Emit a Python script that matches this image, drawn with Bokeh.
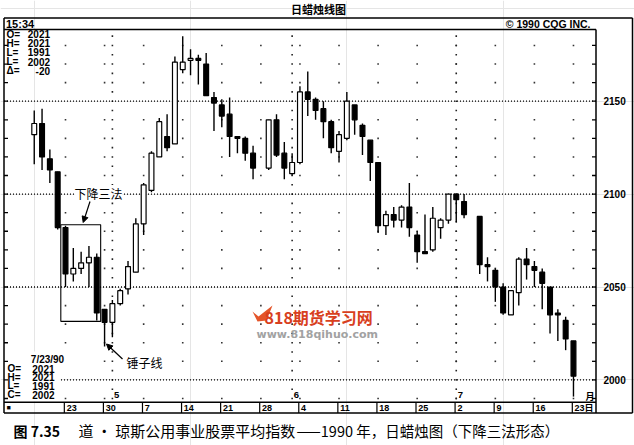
import numpy as np
from bokeh.plotting import figure
from bokeh.models import Range1d, Label, Arrow, NormalHead, ColumnDataSource
from bokeh.core.properties import value
from bokeh.embed import file_html
from bokeh.resources import INLINE

# ---------------- data ----------------
dates = ["1990-04-17", "1990-04-18", "1990-04-19", "1990-04-20", "1990-04-23",
         "1990-04-24", "1990-04-25", "1990-04-26", "1990-04-27", "1990-04-30",
         "1990-05-01", "1990-05-02", "1990-05-03", "1990-05-04", "1990-05-07",
         "1990-05-08", "1990-05-09", "1990-05-10", "1990-05-11", "1990-05-14",
         "1990-05-15", "1990-05-16", "1990-05-17", "1990-05-18", "1990-05-21",
         "1990-05-22", "1990-05-23", "1990-05-24", "1990-05-25", "1990-05-29",
         "1990-05-30", "1990-05-31", "1990-06-01", "1990-06-04", "1990-06-05",
         "1990-06-06", "1990-06-07", "1990-06-08", "1990-06-11", "1990-06-12",
         "1990-06-13", "1990-06-14", "1990-06-15", "1990-06-18", "1990-06-19",
         "1990-06-20", "1990-06-21", "1990-06-22", "1990-06-25", "1990-06-26",
         "1990-06-27", "1990-06-28", "1990-06-29", "1990-07-02", "1990-07-03",
         "1990-07-05", "1990-07-06", "1990-07-09", "1990-07-10", "1990-07-11",
         "1990-07-12", "1990-07-13", "1990-07-16", "1990-07-17", "1990-07-18",
         "1990-07-19", "1990-07-20", "1990-07-23"]
opens = [2132, 2138, 2119, 2112, 2082, 2057, 2060, 2063, 2066, 2038,
         2031, 2041, 2049, 2058, 2084, 2102, 2120, 2131, 2127, 2167,
         2172, 2173, 2170, 2152, 2148, 2143, 2131, 2130, 2122, 2114,
         2140, 2122, 2111, 2117, 2155, 2151, 2146, 2139, 2123, 2130,
         2148, 2137, 2129, 2117, 2083, 2089, 2086, 2093, 2078, 2069,
         2070, 2082, 2086, 2100, 2096, 2088, 2062, 2059, 2050, 2035,
         2047, 2065, 2061, 2058, 2050, 2036, 2032, 2021]
highs = [2145, 2146, 2124, 2112, 2083, 2071, 2069, 2072, 2068, 2038,
         2043, 2049, 2064, 2087, 2106, 2123, 2141, 2143, 2174, 2185,
         2178, 2175, 2176, 2155, 2151, 2152, 2131, 2131, 2126, 2140,
         2143, 2128, 2122, 2158, 2166, 2152, 2150, 2140, 2134, 2155,
         2148, 2138, 2129, 2117, 2091, 2093, 2094, 2106, 2080, 2089,
         2093, 2087, 2100, 2100, 2100, 2088, 2066, 2060, 2052, 2048,
         2066, 2071, 2064, 2060, 2050, 2038, 2034, 2021]
lows = [2116, 2113, 2106, 2081, 2050, 2053, 2057, 2050, 2032, 2018,
        2023, 2040, 2046, 2058, 2078, 2101, 2120, 2123, 2127, 2165,
        2164, 2159, 2153, 2134, 2136, 2120, 2122, 2118, 2108, 2113,
        2120, 2108, 2110, 2116, 2142, 2140, 2130, 2122, 2117, 2129,
        2132, 2121, 2107, 2079, 2078, 2082, 2082, 2077, 2063, 2068,
        2069, 2076, 2084, 2085, 2087, 2057, 2053, 2042, 2035, 2035,
        2040, 2054, 2050, 2038, 2025, 2021, 2016, 1991]
closes = [2138, 2120, 2113, 2082, 2057, 2060, 2063, 2066, 2036, 2031,
          2041, 2048, 2061, 2084, 2105, 2122, 2139, 2125, 2171, 2171,
          2173, 2172, 2153, 2149, 2142, 2131, 2130, 2122, 2114, 2140,
          2121, 2114, 2117, 2155, 2151, 2145, 2139, 2125, 2132, 2150,
          2140, 2131, 2117, 2083, 2089, 2086, 2093, 2082, 2069, 2068,
          2087, 2086, 2100, 2097, 2089, 2062, 2061, 2050, 2036, 2048,
          2065, 2062, 2059, 2052, 2035, 2035, 2022, 2002]

price_ticks = [2000, 2050, 2100, 2150]
price_tick_labels = ["2000", "2050", "2100", "2150"]
price_minor = [1990, 2000, 2010, 2020, 2030, 2040, 2050, 2060, 2070, 2080, 2090,
               2100, 2110, 2120, 2130, 2140, 2150, 2160, 2170, 2180]
week_dates = ["1990-04-23", "1990-04-30", "1990-05-07", "1990-05-14", "1990-05-21",
              "1990-05-28", "1990-06-04", "1990-06-11", "1990-06-18", "1990-06-25",
              "1990-07-02", "1990-07-09", "1990-07-16", "1990-07-23"]
week_labels = ["23", "30", "7", "14", "21", "28", "4", "11", "18", "25", "2", "9", "16", "23"]
month_dates = ["1990-05-01", "1990-06-01", "1990-07-02"]
month_labels = ["5", "6", "7"]

START = dates[0]
def bidx(ds):
    return np.busday_count(START, np.array(ds, dtype="datetime64[D]")).astype(float)

idx = bidx(dates)
week_idx = bidx(week_dates)
month_idx = bidx(month_dates)

# ---------------- geometry (page pixels; the frame fills the whole canvas) ----------------
W, H = 634, 445
OB_L, OB_T, OB_R, OB_B = 3.5, 17.5, 632, 412.5   # outer box
PL_R, PL_T, PL_B = 595.5, 29, 401.7              # plot area right / top / bottom
PX_DAY = 7.815
REF_X, REF_I = 65.0, 4.0
PX_PT = 1.858
REF_Y, REF_P = 100.7, 2150.0

x_start = REF_I - REF_X / PX_DAY
x_end = REF_I + (W - REF_X) / PX_DAY
y_end = REF_P + REF_Y / PX_PT
y_start = REF_P - (H - REF_Y) / PX_PT

def X(px):
    return x_start + px / PX_DAY

def Y(py):
    return y_end - py / PX_PT

CJK = "Noto Sans CJK SC"
LAT = "Liberation Sans"

p = figure(width=W, height=H, x_range=Range1d(x_start, x_end),
           y_range=Range1d(y_start, y_end), x_axis_location=None,
           y_axis_location=None, toolbar_location=None, output_backend="svg",
           min_border_left=0, min_border_right=0, min_border_top=0, min_border_bottom=0,
           background_fill_color="white", border_fill_color="white")
p.outline_line_color = None

# weekly dot grid and month dotted verticals
wx, wy = [], []
for w in week_idx:
    for v in price_minor:
        if v % 50:
            wx.append(w); wy.append(v)
p.scatter(wx, wy, marker="square", size=1.6, color="#333333", line_width=0)
mx, my = [], []
for m in month_idx:
    v = 1990
    while v < Y(PL_T):
        mx.append(m); my.append(v); v += 5
p.scatter(mx, my, marker="square", size=1.6, color="#222222", line_width=0)

# dotted price lines across plot area
n = len(price_ticks)
p.segment(x0=[X(OB_L)] * n, y0=price_ticks, x1=[X(PL_R)] * n, y1=price_ticks,
          line_color="black", line_width=1.3, line_dash="1 2")

# white patches behind lower-left text block
p.quad(left=[X(OB_L), X(OB_L)], right=[X(69), X(60)], top=[Y(351), Y(372)],
       bottom=[Y(372), Y(401)], fill_color="white", line_color=None)

# left and right edge ticks
m_ = len(price_minor)
p.segment(x0=[X(OB_L)] * m_, y0=price_minor, x1=[X(OB_L + 4)] * m_, y1=price_minor,
          line_color="black", line_width=1.3)
p.segment(x0=[X(PL_R - 4)] * m_, y0=price_minor, x1=[X(PL_R)] * m_, y1=price_minor,
          line_color="black", line_width=1.3)

# outer box, header line, plot right edge, date row top
bx0 = [OB_L, OB_L, OB_R, OB_L, OB_L, PL_R, OB_L]
by0 = [OB_T, OB_T, OB_T, OB_B, PL_T, PL_T, PL_B]
bx1 = [OB_R, OB_L, OB_R, OB_R, PL_R, PL_R, PL_R]
by1 = [OB_T, OB_B, OB_B, OB_B, PL_T, OB_B, PL_B]
p.segment(x0=[X(v) for v in bx0], y0=[Y(v) for v in by0],
          x1=[X(v) for v in bx1], y1=[Y(v) for v in by1],
          line_color="black", line_width=1.5)
div_x = week_idx - 0.15
p.segment(x0=div_x, y0=[Y(PL_B)] * len(div_x), x1=div_x, y1=[Y(OB_B)] * len(div_x),
          line_color="black", line_width=1.2)

# candlesticks
o = np.array(opens); c = np.array(closes)
src = ColumnDataSource(dict(x=idx, hi=highs, lo=lows,
                            top=np.maximum(o, c), bot=np.minimum(o, c),
                            fill=["white" if cc > oo else "black" for oo, cc in zip(o, c)]))
p.segment(x0="x", y0="lo", x1="x", y1="hi", source=src, line_color="black", line_width=1.4)
p.vbar(x="x", top="top", bottom="bot", width=0.62, source=src,
       fill_color="fill", line_color="black", line_width=1.2)

# pattern box (falling three methods)
p.quad(left=[idx[4] - 0.6], right=[idx[8] + 0.5], top=[highs[4] + 0.5], bottom=[lows[8] - 0.5],
       fill_alpha=0, line_color="black", line_width=1.1)

p.add_layout(Label(x=X(74), y=Y(193), text="下降三法", text_font=CJK, text_font_size="12px",
                   text_baseline="middle", background_fill_color="white",
                   text_color="black"))
p.add_layout(Arrow(end=NormalHead(size=6, fill_color="black", line_color="black"),
                   x_start=X(89.5), y_start=Y(201), x_end=X(82.7), y_end=Y(222),
                   line_color="black", line_width=1.2))
p.add_layout(Label(x=X(126), y=Y(362), text="锤子线", text_font=CJK, text_font_size="12px",
                   text_baseline="middle", background_fill_color="white",
                   text_color="black"))
p.add_layout(Arrow(end=NormalHead(size=6, fill_color="black", line_color="black"),
                   x_start=X(122), y_start=Y(358.5), x_end=X(106), y_end=Y(343.5),
                   line_color="black", line_width=1.2))

# watermark
p.patch(x=[X(252), X(258), X(272), X(266), X(257)],
        y=[Y(311), Y(316), Y(305), Y(320), Y(321)],
        fill_color="#e4552a", line_color=None)
p.add_layout(Label(x=X(264), y=Y(316), text="818期货学习网", text_font=CJK,
                   text_font_size="16px", text_font_style="bold",
                   text_baseline="middle", text_color="#d8401e"))
p.add_layout(Label(x=X(256), y=Y(334), text="www.818qihuo.com", text_font="DejaVu Sans",
                   text_font_size="11px", text_font_style="bold",
                   text_baseline="middle", text_color="#a2a2a2"))

# price labels on the right
p.text(x=[X(603)] * n, y=price_ticks, text=price_tick_labels,
       text_font=value(LAT), text_font_size="10px", text_font_style="bold",
       text_align="left", text_baseline="middle", text_color="black")

# date labels in bottom row
p.text(x=div_x + 2.3 / PX_DAY, y=[Y(407.3)] * len(week_idx), text=week_labels,
       text_font=value(LAT), text_font_size="9px", text_font_style="bold",
       text_align="left", text_baseline="middle", text_color="black")
p.text(x=month_idx + 1.5 / PX_DAY, y=[Y(394)] * len(month_idx), text=month_labels,
       text_font=value(LAT), text_font_size="9.5px", text_font_style="bold",
       text_align="left", text_baseline="middle", text_color="black")

def lab(px, py, t, font=LAT, size="10px", align="left", style="bold"):
    p.add_layout(Label(x=X(px), y=Y(py), text=t, text_font=font, text_font_size=size,
                       text_font_style=style, text_align=align, text_baseline="middle",
                       text_color="black"))

lab(584, 407.3, "日", font=CJK, size="9px")
lab(585, 395.5, "月", font=CJK, size="9px")
lab(6, 407.3, "■", size="7px")

# top-left info block
for py, k, v in [(33.5, "O=", "2021"), (42.7, "H=", "2021"), (51.8, "L=", "1991"),
                 (61, "L=", "2002"), (70, "Δ=", "-20")]:
    lab(6, py, k)
    lab(49.5, py, v, align="right")

# bottom-left info block
lab(47, 358.5, "7/23/90", align="center")
for py, k, v in [(368, "O=", "2021"), (376.7, "H=", "2021"), (385.4, "L=", "1991"),
                 (394, "C=", "2002")]:
    lab(7, py, k)
    lab(54, py, v, align="right")

# header row
lab(5.5, 23.8, "15:34", size="11px")
lab(590, 23.8, "© 1990 CQG INC.", size="10.5px", align="right")

# title and caption
lab(318, 8, "日蜡烛线图", font=CJK, size="11px", align="center")
lab(13, 430, "图 7.35", font=CJK, size="14px")
lab(78, 430, "道 · 琼斯公用事业股票平均指数", font=CJK, size="15px", style="normal")
lab(296, 430, "——1990 年，日蜡烛图（下降三法形态）", font=CJK, size="14.5px", style="normal")

open("out.html", "w").write(file_html(p, INLINE))
